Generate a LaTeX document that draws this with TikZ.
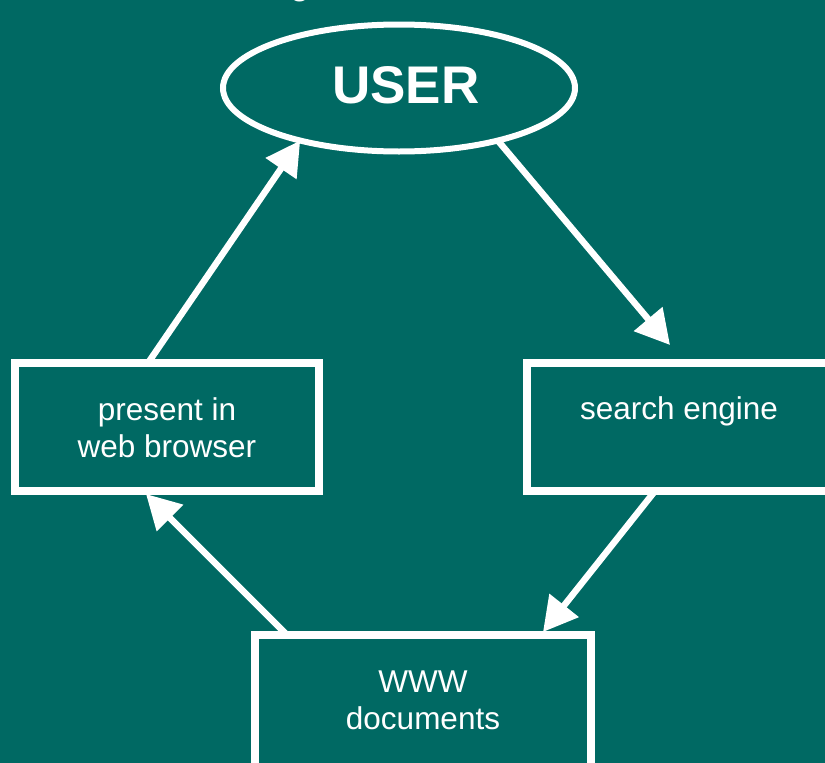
\documentclass[tikz,border=0pt]{standalone}
\usepackage{fontspec}
\setmainfont{Liberation Sans}
\usetikzlibrary{shapes.geometric,arrows.meta}
\definecolor{bg}{HTML}{006963}
\tikzset{
  box/.style={draw=white, line width=7.5pt, rectangle, outer sep=0pt, inner sep=0pt},
  lbl/.style={text=white, font=\fontsize{31.5}{37}\selectfont, align=center, inner sep=0pt},
  flow/.style={draw=white, line width=6.5pt, -{Triangle[length=34pt,width=36pt]}}
}
\begin{document}
\begin{tikzpicture}[x=1pt,y=-1pt]
\useasboundingbox (0,0) rectangle (825,763);
\fill[bg] (0,0) rectangle (825,763);
\node[text=white, anchor=base, inner sep=0pt, font=\fontsize{36}{40}\selectfont] (title) at (300,-5.5) {g};
\node[draw=white, line width=6pt, ellipse, outer sep=0pt, minimum width=352pt, minimum height=127pt] (user) at (399,88) {};
\node[text=white, anchor=base, inner sep=0pt, font=\fontsize{53}{60}\selectfont\bfseries] (usertext) at (406,103) {USER};
\node[box, minimum width=304pt, minimum height=128pt] (present) at (167,427) {};
\node[lbl, anchor=base] (presenttext) at (167,420) {present in};
\node[lbl, anchor=base] (presenttext2) at (167,457) {web browser};
\node[box, minimum width=304pt, minimum height=128pt] (search) at (679,427) {};
\node[lbl, anchor=base] (searchtext) at (679,419) {search engine};
\node[box, minimum width=336pt, minimum height=170pt] (www) at (423,720) {};
\node[lbl, anchor=base] (wwwtext) at (423,692) {WWW};
\node[lbl, anchor=base] (wwwtext2) at (423,729) {documents};
\draw[flow] ([xshift=133pt]present.north west) -- (user.208);
\draw[flow] (user.332) -- ([xshift=143pt,yshift=18pt]search.north west);
\draw[flow] ([xshift=128pt]search.south west) -- ([xshift=288pt,yshift=3pt]www.north west);
\draw[flow] ([xshift=32pt]www.north west) -- ([xshift=131pt,yshift=-3pt]present.south west);
\end{tikzpicture}
\end{document}
